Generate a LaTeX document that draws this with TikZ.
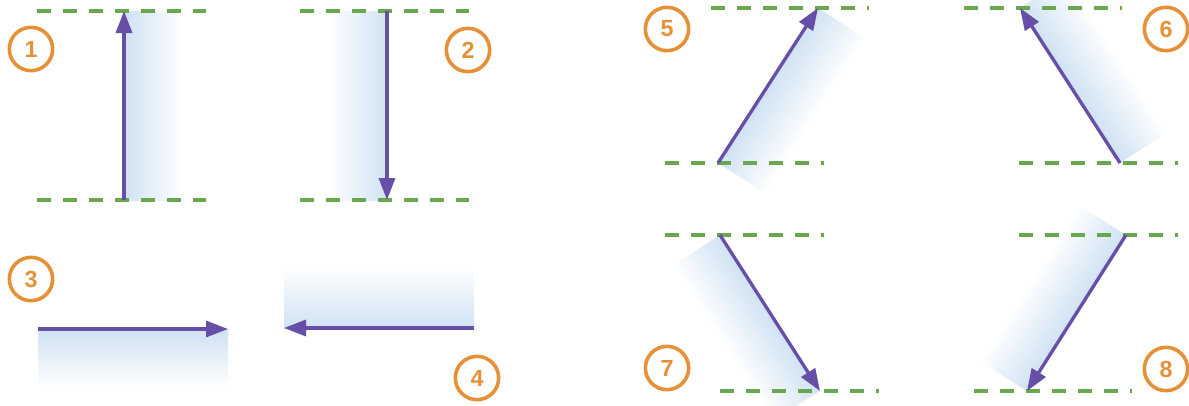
\documentclass[tikz,border=0pt]{standalone}
\usepackage{fontspec}
\setmainfont{Liberation Sans}
\usetikzlibrary{arrows.meta}
\definecolor{guide}{HTML}{6AA84F}
\definecolor{vec}{HTML}{674EA7}
\definecolor{num}{HTML}{E69138}
\definecolor{band}{HTML}{CFE2F3}
\begin{document}
\begin{tikzpicture}[x=0.75pt,y=0.75pt,
  guideline/.style={draw=guide, line width=2.5pt, dash pattern=on 10.5pt off 9pt},
  vecarrow/.style={draw=vec, line width=2.5pt, -{Triangle[length=16.5pt,width=12pt]}},
  numcirc/.style={circle, draw=num, line width=2.7pt, minimum size=32.5pt, inner sep=0pt,
    text=num, font=\fontsize{17.5}{17.5}\selectfont\bfseries},
  bandfill/.style={top color=band, bottom color=white, draw=none}]
\useasboundingbox (0,0) rectangle (1189,405);
\clip (0,0) rectangle (1189,405);

% ---- shaded bands (on the right-hand side of each vector) ----
\shade[bandfill, transform canvas={shift={(124,205)}, rotate=90}] (0,0) rectangle (189,-59);
\shade[bandfill, transform canvas={shift={(387,394)}, rotate=-90}] (0,0) rectangle (189,-58);
\shade[bandfill, transform canvas={shift={(38,76)}, rotate=0}] (0,0) rectangle (190,-59);
\shade[bandfill, transform canvas={shift={(474,77)}, rotate=180}] (0,0) rectangle (190,-61);
\shade[bandfill, transform canvas={shift={(718,242)}, rotate=57.2}] (0,0) rectangle (184.5,-57);
\shade[bandfill, transform canvas={shift={(1120,242)}, rotate=122.8}] (0,0) rectangle (184.5,-57);
\shade[bandfill, transform canvas={shift={(720,170)}, rotate=-57.3}] (0,0) rectangle (185,-57);
\shade[bandfill, transform canvas={shift={(1126,170)}, rotate=-122.4}] (0,0) rectangle (184.8,-57);

% ---- dashed guide lines ----
\coordinate (g1ta) at (37,394);  \coordinate (g1tb) at (206,394);
\coordinate (g1ba) at (37,205);  \coordinate (g1bb) at (206,205);
\coordinate (g2ta) at (300,394); \coordinate (g2tb) at (469,394);
\coordinate (g2ba) at (300,205); \coordinate (g2bb) at (469,205);
\coordinate (g5ta) at (711,397); \coordinate (g5tb) at (869,397);
\coordinate (g5ba) at (665,242); \coordinate (g5bb) at (824,242);
\coordinate (g6ta) at (964,397); \coordinate (g6tb) at (1122,397);
\coordinate (g6ba) at (1019,242);\coordinate (g6bb) at (1178,242);
\coordinate (g7ta) at (665,170); \coordinate (g7tb) at (824,170);
\coordinate (g7ba) at (720,14);  \coordinate (g7bb) at (879,14);
\coordinate (g8ta) at (1019,170);\coordinate (g8tb) at (1178,170);
\coordinate (g8ba) at (974,14);  \coordinate (g8bb) at (1132,14);
\foreach \g in {1,2,5,6,7,8}{
  \draw[guideline] (g\g ta) -- (g\g tb);
  \draw[guideline] (g\g ba) -- (g\g bb);
}

% ---- vectors ----
\coordinate (a1s) at (124,205);  \coordinate (a1e) at (124,394);
\coordinate (a2s) at (387,394);  \coordinate (a2e) at (387,205);
\coordinate (a3s) at (38,76);    \coordinate (a3e) at (228,76);
\coordinate (a4s) at (474,77);   \coordinate (a4e) at (284,77);
\coordinate (a5s) at (718,242);  \coordinate (a5e) at (818,397);
\coordinate (a6s) at (1120,242); \coordinate (a6e) at (1020,397);
\coordinate (a7s) at (720,170);  \coordinate (a7e) at (820,14);
\coordinate (a8s) at (1126,170); \coordinate (a8e) at (1027,14);
\foreach \a in {1,...,8}{
  \draw[vecarrow] (a\a s) -- (a\a e);
}

% ---- numbers ----
\node[numcirc] (n1) at (31,356) {1};
\node[numcirc] (n2) at (468,355) {2};
\node[numcirc] (n3) at (31,126) {3};
\node[numcirc] (n4) at (477,27) {4};
\node[numcirc] (n5) at (667,376) {5};
\node[numcirc] (n6) at (1166,376) {6};
\node[numcirc] (n7) at (667,37) {7};
\node[numcirc] (n8) at (1166,36) {8};
\end{tikzpicture}
\end{document}
